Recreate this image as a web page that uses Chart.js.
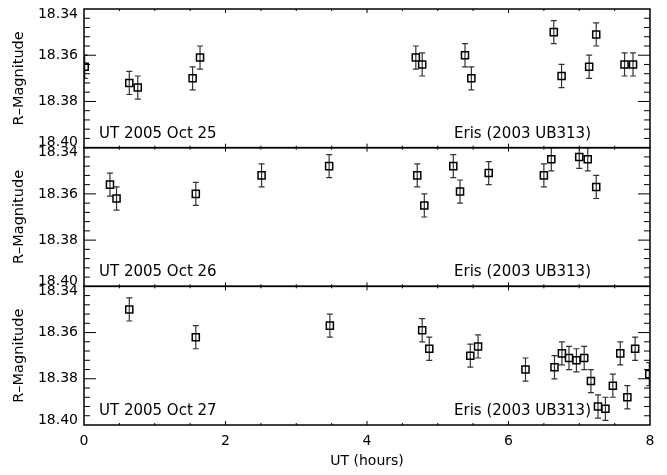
<!DOCTYPE html>
<html>
<head>
<meta charset="utf-8">
<title>Eris R-band light curves</title>
<script src="https://cdn.jsdelivr.net/npm/chart.js@4.4.1/dist/chart.umd.min.js"></script>
<style>
  html, body { margin: 0; padding: 0; background: #fff; }
  #wrap { width: 667px; height: 475px; }
</style>
</head>
<body>
<div id="wrap"><canvas id="lightCurve" width="667" height="475"></canvas></div>
<script>
// ==============================
// DATA
// ==============================
const panelDates = ["UT 2005 Oct 25", "UT 2005 Oct 26", "UT 2005 Oct 27"];
const targetName = "Eris (2003 UB313)";

const utOct25 = [0.01, 0.64, 0.76, 1.535, 1.64, 4.69, 4.78, 5.385, 5.475, 6.64, 6.75, 7.14, 7.24, 7.64, 7.76];
const magOct25 = [18.365, 18.372, 18.374, 18.370, 18.361, 18.361, 18.364, 18.360, 18.370, 18.350, 18.369, 18.365, 18.351, 18.364, 18.364];

const utOct26 = [0.367, 0.46, 1.58, 2.51, 3.465, 4.71, 4.81, 5.22, 5.315, 5.72, 6.50, 6.605, 7.00, 7.12, 7.24];
const magOct26 = [18.356, 18.362, 18.360, 18.352, 18.348, 18.352, 18.365, 18.348, 18.359, 18.351, 18.352, 18.345, 18.344, 18.345, 18.357];

const utOct27 = [0.64, 1.58, 3.475, 4.78, 4.88, 5.46, 5.57, 6.24, 6.65, 6.755, 6.855, 6.96, 7.07, 7.165, 7.265, 7.37, 7.475, 7.58, 7.68, 7.79, 7.99];
const magOct27 = [18.350, 18.362, 18.357, 18.359, 18.367, 18.370, 18.366, 18.376, 18.375, 18.369, 18.371, 18.372, 18.371, 18.381, 18.392, 18.393, 18.383, 18.369, 18.388, 18.367, 18.378];

// one sigma error, same for all points
const magErr = 0.005;

const magTicks = [18.34, 18.36, 18.38, 18.40];
const utTicks = [0, 2, 4, 6, 8];

// ==============================
// HELPERS
// ==============================
const FONT = "'DejaVu Sans', sans-serif";

function toPoints(xs, ys) {
  return xs.map((x, i) => ({ x: x, y: ys[i] }));
}

function magScale() {
  return {
    type: "linear",
    position: "left",
    stack: "mag",
    stackWeight: 1,
    min: 18.34,
    max: 18.40,
    reverse: true,
    grid: { display: false, drawTicks: false },
    border: { display: false },
    afterBuildTicks: s => { s.ticks = magTicks.map(v => ({ value: v })); },
    afterFit: s => { s.width = 77; s.paddingTop = 0; s.paddingBottom = 0; },
    ticks: {
      color: "#000",
      padding: 6,
      font: { family: FONT, size: 14, lineHeight: 0.7 },
      // nudge the end labels inward like the original
      callback: v => {
        const t = Number(v).toFixed(2);
        if (t === "18.34") return ["", t];
        if (t === "18.40") return [t, ""];
        return t;
      },
    },
    title: {
      display: true,
      text: "R\u2013Magnitude",
      color: "#000",
      padding: { top: 4, bottom: 4 },
      font: { family: FONT, size: 14.5 },
    },
  };
}

// ==============================
// FRAME / TICKS / ERROR BARS
// ==============================
const panelFrame = {
  id: "panelFrame",
  beforeDatasetsDraw(chart) {
    const ctx = chart.ctx;
    const area = chart.chartArea;
    const xs = chart.scales.x;

    // panel captions
    ctx.save();
    ctx.fillStyle = "#000";
    ctx.font = "15px " + FONT;
    ctx.textBaseline = "alphabetic";
    ["y25", "y26", "y27"].forEach((id, i) => {
      const ys = chart.scales[id];
      ctx.textAlign = "left";
      ctx.fillText(panelDates[i], area.left + 15, ys.bottom - 10);
      ctx.textAlign = "right";
      ctx.fillText(targetName, area.right - 59, ys.bottom - 10);
    });
    ctx.restore();

    // error bars
    ctx.save();
    ctx.strokeStyle = "#333";
    ctx.lineWidth = 1.2;
    chart.data.datasets.forEach(ds => {
      const ys = chart.scales[ds.yAxisID];
      ctx.save();
      ctx.beginPath();
      ctx.rect(area.left, ys.top, area.right - area.left, ys.bottom - ys.top);
      ctx.clip();
      ctx.beginPath();
      ds.data.forEach(p => {
        const px = xs.getPixelForValue(p.x);
        const y1 = ys.getPixelForValue(p.y - magErr);
        const y2 = ys.getPixelForValue(p.y + magErr);
        ctx.moveTo(px, y1); ctx.lineTo(px, y2);
        ctx.moveTo(px - 3, y1); ctx.lineTo(px + 3, y1);
        ctx.moveTo(px - 3, y2); ctx.lineTo(px + 3, y2);
      });
      ctx.stroke();
      ctx.restore();
    });
    ctx.restore();
  },
  afterDatasetsDraw(chart) {
    const ctx = chart.ctx;
    const area = chart.chartArea;
    const xs = chart.scales.x;
    ctx.save();
    ctx.strokeStyle = "#000";
    ctx.lineWidth = 1.5;
    ["y25", "y26", "y27"].forEach(id => {
      const ys = chart.scales[id];
      ctx.strokeRect(area.left, ys.top, area.right - area.left, ys.bottom - ys.top);

      ctx.beginPath();
      // y ticks every 0.004, major every 0.02
      for (let k = 1; k < 15; k++) {
        const py = ys.getPixelForValue(18.34 + k * 0.004);
        const len = k % 5 === 0 ? 12 : 6;
        ctx.moveTo(area.left, py); ctx.lineTo(area.left + len, py);
        ctx.moveTo(area.right, py); ctx.lineTo(area.right - len, py);
      }
      // x ticks every 0.5 h, major every 2 h
      for (let k = 1; k < 16; k++) {
        const px = xs.getPixelForValue(k * 0.5);
        const len = k % 4 === 0 ? 4 : 2;
        ctx.moveTo(px, ys.top); ctx.lineTo(px, ys.top + len);
        ctx.moveTo(px, ys.bottom); ctx.lineTo(px, ys.bottom - len);
      }
      ctx.lineWidth = 1;
      ctx.stroke();
      ctx.lineWidth = 1.5;
    });
    ctx.restore();
  },
};

// ==============================
// CHART
// ==============================
function pointSet(label, xs, ys, axis) {
  return {
    label: label,
    data: toPoints(xs, ys),
    yAxisID: axis,
    showLine: false,
    pointStyle: "rect",
    pointRadius: 5,
    pointHoverRadius: 5,
    pointBorderWidth: 1.5,
    borderColor: "#000",
    backgroundColor: "rgba(0,0,0,0)",
  };
}

const scales = {
  // later stacked axes are placed on top, so Oct 27 goes first
  y27: magScale(),
  y26: magScale(),
  y25: magScale(),
  x: {
    type: "linear",
    position: "bottom",
    min: 0,
    max: 8,
    grid: { display: false, drawTicks: false },
    border: { display: false },
    afterBuildTicks: s => { s.ticks = utTicks.map(v => ({ value: v })); },
    afterFit: s => { s.height = 49; },
    ticks: {
      color: "#000",
      padding: 8,
      font: { family: FONT, size: 14 },
      callback: v => String(v),
    },
    title: {
      display: true,
      text: "UT (hours)",
      color: "#000",
      padding: { top: 2, bottom: 4 },
      font: { family: FONT, size: 14 },
    },
  },
};

new Chart(document.getElementById("lightCurve"), {
  type: "scatter",
  data: {
    datasets: [
      pointSet(panelDates[0], utOct25, magOct25, "y25"),
      pointSet(panelDates[1], utOct26, magOct26, "y26"),
      pointSet(panelDates[2], utOct27, magOct27, "y27"),
    ],
  },
  options: {
    responsive: false,
    animation: false,
    devicePixelRatio: 1,
    layout: { padding: { left: 7, right: 17, top: 9, bottom: 1 } },
    plugins: {
      legend: { display: false },
      tooltip: { enabled: false },
    },
    scales: scales,
  },
  plugins: [panelFrame],
});
</script>
</body>
</html>
